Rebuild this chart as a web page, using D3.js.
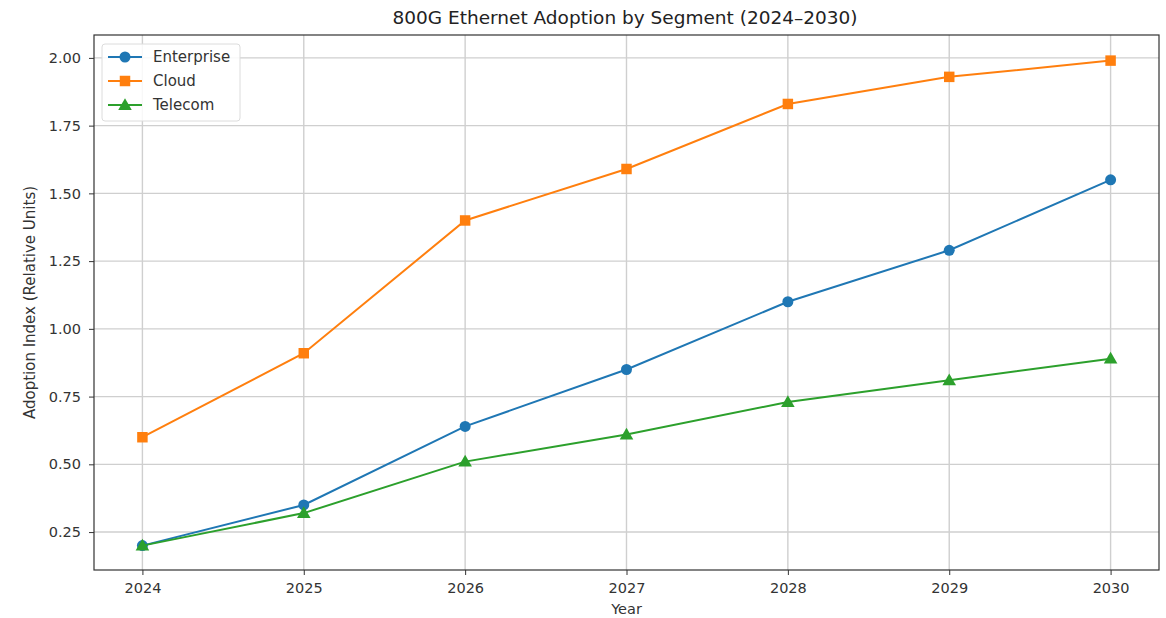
<!DOCTYPE html>
<html>
<head>
<meta charset="utf-8">
<script src="https://cdn.jsdelivr.net/npm/d3@7"></script>
<style>
  body { margin: 0; background: #fff; }
  svg { font-family: "DejaVu Sans", sans-serif; }
</style>
</head>
<body>
<svg id="chart" width="1166" height="618"></svg>
<script>
const years = [2024, 2025, 2026, 2027, 2028, 2029, 2030];
const enterprise = [0.20, 0.35, 0.64, 0.85, 1.10, 1.29, 1.55];
const cloud = [0.60, 0.91, 1.40, 1.59, 1.83, 1.93, 1.99];
const telecom = [0.20, 0.32, 0.51, 0.61, 0.73, 0.81, 0.89];
const yTicks = [0.25, 0.50, 0.75, 1.00, 1.25, 1.50, 1.75, 2.00];

const series = [
  { name: "Enterprise", values: enterprise, color: "#1f77b4", marker: "circle" },
  { name: "Cloud", values: cloud, color: "#ff7f0e", marker: "square" },
  { name: "Telecom", values: telecom, color: "#2ca02c", marker: "triangle" }
];

const svg = d3.select("#chart");
const margin = { left: 94, right: 7, top: 35, bottom: 48 };
const width = 1166, height = 618;

const x = d3.scaleLinear().domain([2023.7, 2030.3]).range([margin.left, width - margin.right]);
const y = d3.scaleLinear().domain([0.11, 2.0845]).range([height - margin.bottom, margin.top]);

// grid
const grid = svg.append("g").attr("stroke", "#cfcfcf").attr("stroke-width", 1.4);
grid.selectAll(".gx").data(years).enter().append("line")
  .attr("x1", d => x(d)).attr("x2", d => x(d))
  .attr("y1", margin.top).attr("y2", height - margin.bottom);
grid.selectAll(".gy").data(yTicks).enter().append("line")
  .attr("x1", margin.left).attr("x2", width - margin.right)
  .attr("y1", d => y(d)).attr("y2", d => y(d));

// axes
const xAxis = svg.append("g")
  .attr("transform", `translate(0,${height - margin.bottom})`)
  .call(d3.axisBottom(x).tickValues(years).tickFormat(d3.format("d")).tickSize(5).tickPadding(8));
const yAxis = svg.append("g")
  .attr("transform", `translate(${margin.left},0)`)
  .call(d3.axisLeft(y).tickValues(yTicks).tickFormat(d3.format(".2f")).tickSize(5).tickPadding(8));
[xAxis, yAxis].forEach(a => {
  a.select(".domain").remove();
  a.selectAll("line").attr("stroke", "#333");
  a.selectAll("text").attr("font-size", 14.5).attr("fill", "#333").attr("font-family", "DejaVu Sans, sans-serif");
});

svg.append("rect")
  .attr("x", margin.left).attr("y", margin.top)
  .attr("width", width - margin.left - margin.right)
  .attr("height", height - margin.top - margin.bottom)
  .attr("fill", "none").attr("stroke", "#333").attr("stroke-width", 1.2);

// lines
const line = d3.line().x((d, i) => x(years[i])).y(d => y(d));
const symbols = { circle: d3.symbolCircle, square: d3.symbolSquare, triangle: d3.symbolTriangle };
const sizes = { circle: 95, square: 110, triangle: 80 };

series.forEach(s => {
  svg.append("path")
    .datum(s.values)
    .attr("fill", "none")
    .attr("stroke", s.color)
    .attr("stroke-width", 2)
    .attr("d", line);
  svg.append("g").selectAll("path")
    .data(s.values).enter().append("path")
    .attr("d", d3.symbol().type(symbols[s.marker]).size(sizes[s.marker]))
    .attr("transform", (d, i) => `translate(${x(years[i])},${y(d) + (s.marker === "triangle" ? 1 : 0)})`)
    .attr("fill", s.color);
});

// title and labels
svg.append("text")
  .attr("x", 625).attr("y", 24)
  .attr("text-anchor", "middle").attr("font-size", 18.5).attr("fill", "#222")
  .text("800G Ethernet Adoption by Segment (2024\u20132030)");
svg.append("text")
  .attr("x", (margin.left + width - margin.right) / 2).attr("y", 614)
  .attr("text-anchor", "middle").attr("font-size", 14.5).attr("fill", "#333")
  .text("Year");
svg.append("text")
  .attr("transform", `translate(35,${(margin.top + height - margin.bottom) / 2}) rotate(-90)`)
  .attr("text-anchor", "middle").attr("font-size", 15).attr("fill", "#333")
  .text("Adoption Index (Relative Units)");

// legend
const legend = svg.append("g").attr("transform", "translate(102,44)");
legend.append("rect")
  .attr("width", 138).attr("height", 77).attr("rx", 3)
  .attr("fill", "#fff").attr("fill-opacity", 0.85)
  .attr("stroke", "#dcdcdc");
series.forEach((s, i) => {
  const g = legend.append("g").attr("transform", `translate(0,${13 + i * 24})`);
  g.append("line").attr("x1", 6).attr("x2", 40).attr("stroke", s.color).attr("stroke-width", 2);
  g.append("path")
    .attr("d", d3.symbol().type(symbols[s.marker]).size(sizes[s.marker]))
    .attr("transform", `translate(23,${s.marker === "triangle" ? 1 : 0})`)
    .attr("fill", s.color);
  g.append("text").attr("x", 51).attr("y", 5).attr("font-size", 15).attr("fill", "#333").text(s.name);
});
</script>
</body>
</html>
